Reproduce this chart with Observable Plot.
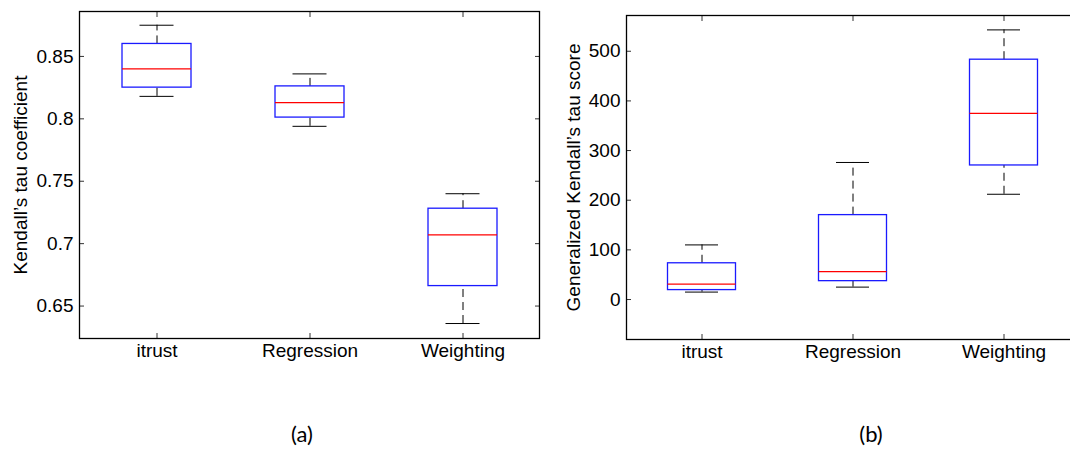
<!DOCTYPE html>
<html><head><meta charset="utf-8">
<script src="https://cdn.jsdelivr.net/npm/d3@7"></script>
<script src="https://cdn.jsdelivr.net/npm/@observablehq/plot@0.6"></script>
<style>
html,body{margin:0;padding:0;background:#fff;overflow:hidden;}
#wrap{position:relative;width:1070px;height:449px;overflow:hidden;background:#fff;}
.panel{position:absolute;top:0;width:540px;}
.cap{position:absolute;font-family:Lato,"Open Sans",sans-serif;font-size:22px;transform:translate(-50%,-50%);color:#000;white-space:nowrap;}
</style></head><body>
<div id="wrap">
  <div id="a" class="panel" style="left:0px"></div>
  <div id="b" class="panel" style="left:540px"></div>
  <div class="cap" style="left:302px;top:433px">(a)</div>
  <div class="cap" style="left:871px;top:433px">(b)</div>
</div>
<script>
const categories = ["itrust", "Regression", "Weighting"];

// (a) Kendall's tau coefficient
const aLow  = [0.818, 0.794, 0.636];
const aQ1   = [0.825, 0.801, 0.666];
const aMed  = [0.840, 0.813, 0.707];
const aQ3   = [0.860, 0.826, 0.728];
const aHigh = [0.875, 0.836, 0.740];
const aTicks = [0.65, 0.7, 0.75, 0.8, 0.85];
const aTickLabels = ["0.65", "0.7", "0.75", "0.8", "0.85"];

// (b) Generalized Kendall's tau score
const bLow  = [15, 25, 212];
const bQ1   = [19, 37, 270];
const bMed  = [31, 56, 375];
const bQ3   = [73, 170, 483];
const bHigh = [110, 276, 543];
const bTicks = [0, 100, 200, 300, 400, 500];
const bTickLabels = ["0", "100", "200", "300", "400", "500"];

function boxPanel(o) {
  const rows = categories.map((c, i) => ({cat: c, low: o.low[i], q1: o.q1[i], med: o.med[i], q3: o.q3[i], high: o.high[i]}));
  const H = 370;
  return Plot.plot({
    width: 540, height: H,
    marginLeft: o.marginLeft, marginRight: 1, marginTop: o.marginTop, marginBottom: H - o.frameBottom,
    style: {fontFamily: "'Liberation Sans', Arial, sans-serif", fontSize: "19px", background: "transparent", color: "#000", overflow: "visible"},
    x: {domain: categories, padding: 0, axis: null},
    y: {domain: o.domain, axis: null},
    marks: [
      Plot.ruleX(rows, {x: "cat", y1: "q3", y2: "high", stroke: "#000", strokeDasharray: "8,5"}),
      Plot.ruleX(rows, {x: "cat", y1: "low", y2: "q1", stroke: "#000", strokeDasharray: "8,5"}),
      Plot.tickY(rows, {x: "cat", y: "high", stroke: "#000", insetLeft: o.capInset, insetRight: o.capInset}),
      Plot.tickY(rows, {x: "cat", y: "low", stroke: "#000", insetLeft: o.capInset, insetRight: o.capInset}),
      Plot.barY(rows, {x: "cat", y1: "q1", y2: "q3", fill: "none", stroke: "#1a1aff", strokeWidth: 1.3, insetLeft: o.boxInset, insetRight: o.boxInset}),
      Plot.tickY(rows, {x: "cat", y: "med", stroke: "#ff0000", strokeWidth: 1.2, insetLeft: o.boxInset, insetRight: o.boxInset}),
      Plot.axisY({anchor: "left", ticks: o.ticks, tickFormat: (d) => o.tickLabels[o.ticks.indexOf(d)], tickSize: -5, tickPadding: 11, stroke: "#333", label: o.label, labelAnchor: "center", labelOffset: o.labelOffset, labelArrow: "none"}),
      Plot.axisY({anchor: "right", ticks: o.ticks, tickFormat: () => "", tickSize: -5, stroke: "#333", label: null}),
      Plot.axisX({anchor: "bottom", tickSize: -5, tickPadding: 10, stroke: "#333", label: null}),
      Plot.axisX({anchor: "top", tickSize: -5, tickFormat: () => "", stroke: "#333", label: null}),
      Plot.frame({stroke: "#000", strokeWidth: 1.3})
    ]
  });
}

document.getElementById("a").appendChild(boxPanel({
  low: aLow, q1: aQ1, med: aMed, q3: aQ3, high: aHigh,
  domain: [0.624, 0.886], ticks: aTicks, tickLabels: aTickLabels,
  label: "Kendall’s tau coefficient", labelOffset: 66,
  marginLeft: 79, marginTop: 11, frameBottom: 338, boxInset: 42, capInset: 59.5
}));
document.getElementById("b").appendChild(boxPanel({
  low: bLow, q1: bQ1, med: bMed, q3: bQ3, high: bHigh,
  domain: [-80.5, 572], ticks: bTicks, tickLabels: bTickLabels,
  label: "Generalized Kendall’s tau score", labelOffset: 60,
  marginLeft: 86, marginTop: 15, frameBottom: 339, boxInset: 41.5, capInset: 59
}));
</script>
</body></html>
